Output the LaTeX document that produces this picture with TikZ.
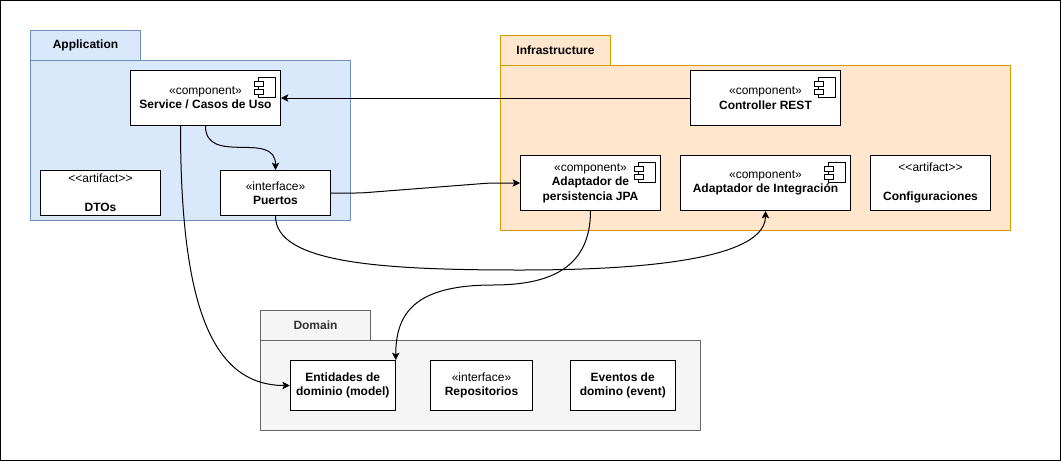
\documentclass[tikz,border=0pt]{standalone}
\usepackage{fontspec}
\setmainfont{Liberation Sans}
\usetikzlibrary{arrows.meta}
\definecolor{appfill}{HTML}{DAE8FC}
\definecolor{appline}{HTML}{6C8EBF}
\definecolor{inffill}{HTML}{FFE6CC}
\definecolor{infline}{HTML}{D79B00}
\definecolor{domfill}{HTML}{F5F5F5}
\definecolor{domline}{HTML}{666666}
\definecolor{domtext}{HTML}{333333}
\tikzset{
  every node/.style={font=\fontsize{9}{10.8}\selectfont},
  pkgbox/.style={draw,line width=0.75pt,inner sep=0pt,align=center},
  appbox/.style={pkgbox,fill=appfill,draw=appline},
  infbox/.style={pkgbox,fill=inffill,draw=infline},
  dombox/.style={pkgbox,fill=domfill,draw=domline},
  item/.style={draw=black,fill=white,line width=0.75pt,inner sep=0pt,align=center},
  dep/.style={draw=black,line width=0.75pt,-{Stealth[length=5.5pt,width=5.5pt,inset=1.2pt]}},
  compicon/.pic={
    \draw[line width=0.75pt,fill=white] (-23,7) rectangle (-6,27);
    \draw[line width=0.75pt,fill=white] (-27,11) rectangle (-18,16.5);
    \draw[line width=0.75pt,fill=white] (-27,19) rectangle (-18,24.5);
  }
}
\begin{document}
\begin{tikzpicture}[x=0.75pt,y=-0.75pt]
  \useasboundingbox (0,0) rectangle (1061,461);
  \draw[line width=0.75pt,fill=white] (0.5,0.5) rectangle (1060.5,460.5);

  \node[appbox,minimum width=82.5pt,minimum height=22.5pt] (apptab) at (85.5,45.5) {\textbf{Application}};
  \node[appbox,minimum width=240pt,minimum height=120pt] (appbody) at (190.5,140.5) {};
  \node[infbox,minimum width=82.5pt,minimum height=22.5pt] (inftab) at (555.5,50.5) {\textbf{Infrastructure}};
  \node[infbox,minimum width=382.5pt,minimum height=123.75pt] (infbody) at (755.5,148) {};
  \node[dombox,minimum width=82.5pt,minimum height=22.5pt,text=domtext] (domtab) at (315.5,325.5) {\textbf{Domain}};
  \node[dombox,minimum width=330pt,minimum height=67.5pt] (dombody) at (480.5,385.5) {};

  \node[item,minimum width=112.5pt,minimum height=41.25pt] (svc) at (205.5,98) {«component»\\\textbf{Service / Casos de Uso}};
  \node[item,minimum width=90pt,minimum height=33.75pt] (dto) at (100.5,193) {{<}{<}artifact{>}{>}\\\mbox{}\\\textbf{DTOs}};
  \node[item,minimum width=82.5pt,minimum height=33.75pt] (prt) at (275.5,193) {«interface»\\\textbf{Puertos}};

  \node[item,minimum width=112.5pt,minimum height=41.25pt] (ctl) at (765.5,98) {«component»\\\textbf{Controller REST}};
  \node[item,minimum width=105pt,minimum height=41.25pt] (jpa) at (590.5,183) {«component»\\\textbf{Adaptador de}\\\textbf{persistencia JPA}};
  \node[item,minimum width=127.5pt,minimum height=41.25pt] (itg) at (765.5,183) {«component»\\\textbf{Adaptador de Integración}};
  \node[item,minimum width=90pt,minimum height=41.25pt] (cfg) at (930.5,183) {{<}{<}artifact{>}{>}\\\mbox{}\\\textbf{Configuraciones}};

  \node[item,minimum width=78.75pt,minimum height=37.5pt] (ent) at (342.75,385.5) {\textbf{Entidades de}\\\textbf{dominio (model)}};
  \node[item,minimum width=76.5pt,minimum height=37.5pt] (rep) at (481.5,385.5) {«interface»\\\textbf{Repositorios}};
  \node[item,minimum width=78.75pt,minimum height=37.5pt] (evt) at (622.75,385.5) {\textbf{Eventos de}\\\textbf{domino (event)}};

  \pic at (svc.north east) {compicon};
  \pic at (ctl.north east) {compicon};
  \pic at (jpa.north east) {compicon};
  \pic at (itg.north east) {compicon};

  \draw[dep] (ctl.west) -- (svc.east);
  \draw[dep] (svc.south) .. controls +(0,40) and +(0,-40) .. (prt.north);
  \draw[dep] ([xshift=-18.75pt]svc.south) .. controls +(0,172) and +(-81,0) .. (ent.west);
  \draw[dep,rounded corners=4pt] (prt.east) -- +(30,0) -- (490,183) -- (jpa.west);
  \draw[dep] (prt.south) .. controls +(0,47) and +(-140,0) .. (520,270) .. controls +(73,0) and +(0,56) .. (itg.south);
  \draw[dep] (jpa.south) .. controls +(0,60) and +(52,0) .. (493,285) .. controls +(-78,0) and +(0,-47) .. (ent.north east);
\end{tikzpicture}
\end{document}
